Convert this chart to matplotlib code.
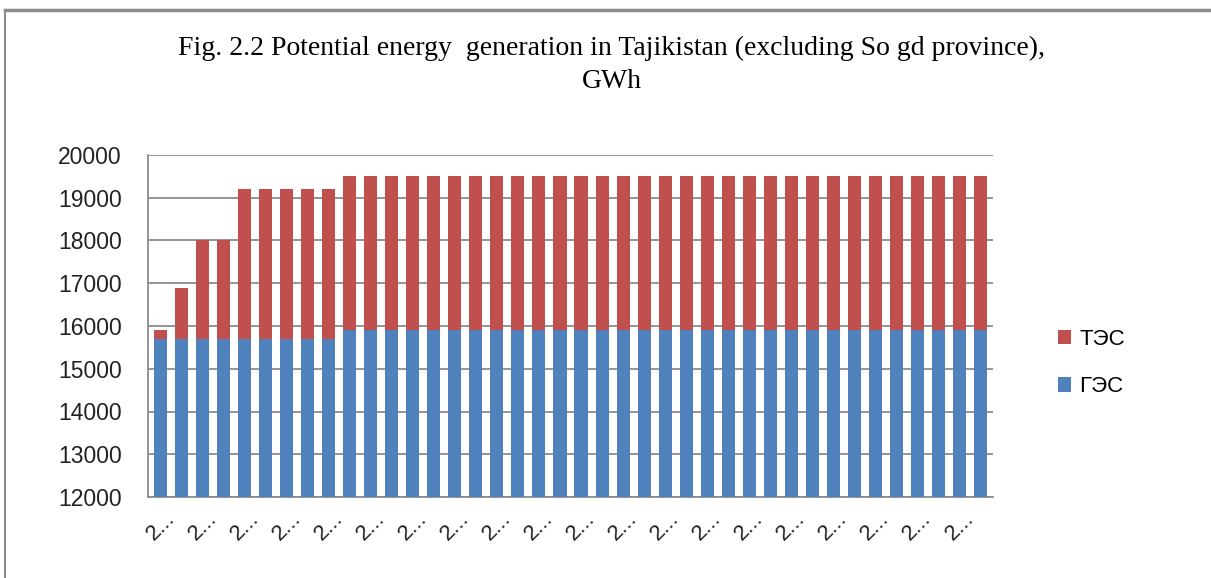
import matplotlib
matplotlib.use("Agg")
import matplotlib.pyplot as plt
from matplotlib.lines import Line2D

# data (40 years, labels truncated to "2..." in the original)
years = list(range(2010, 2050))
ges = [15700] * 9 + [15900] * 31          # ГЭС (hydro)
totals = [15900, 16900, 18000, 18000] + [19200] * 5 + [19500] * 31
tes = [t - g for t, g in zip(totals, ges)]  # ТЭС (thermal)

blue = "#4F81BD"
red = "#C0504D"

fig = plt.figure(figsize=(12.11, 5.78), dpi=100)
ax = fig.add_axes([148 / 1211, 1 - 497 / 578, (993 - 148) / 1211, (497 - 155) / 578])

x = list(range(len(years)))
ax.bar(x, [g - 12000 for g in ges], bottom=12000, width=0.62, color=blue, label="ГЭС", zorder=3)
ax.bar(x, tes, bottom=ges, width=0.62, color=red, label="ТЭС", zorder=3)

ax.set_ylim(12000, 20000)
ax.set_xlim(-0.6, len(years) - 0.4)
ax.set_yticks(range(12000, 20001, 1000))
ax.yaxis.grid(True, color="#8c8c8c", linewidth=1.3, zorder=0)
ax.tick_params(axis="y", length=0, labelsize=16.5, pad=19, colors="#222222")
ax.tick_params(axis="x", length=0, pad=8)
ax.set_xticks(x[::2])
ax.set_xticklabels(["2..." for _ in x[::2]], rotation=45, fontsize=16,
                   ha="center", color="#222222")
for lbl in ax.get_yticklabels() + ax.get_xticklabels():
    lbl.set_family("Liberation Sans")
for s in ["top", "right"]:
    ax.spines[s].set_visible(False)
for s in ["left", "bottom"]:
    ax.spines[s].set_color("#8c8c8c")
    ax.spines[s].set_linewidth(1.3)

handles, labels = ax.get_legend_handles_labels()
leg = fig.legend(handles[::-1], labels[::-1], loc="center left",
                 bbox_to_anchor=(1038 / 1211, 1 - 363 / 578), frameon=False,
                 prop={"family": "Liberation Sans", "size": 16},
                 handlelength=0.6, handleheight=0.6, labelspacing=1.2, handletextpad=0.35)

fig.text(0.5 + 0.005, 1 - 48 / 578, "Fig. 2.2 Potential energy  generation in Tajikistan (excluding So gd province),",
         ha="center", va="center", family="Liberation Serif", size=20)
fig.text(0.5 + 0.005, 1 - 82 / 578, "GWh", ha="center", va="center",
         family="Liberation Serif", size=20)

# outer frame of the original chart box
fig.add_artist(Line2D([5 / 1211, 1], [1 - 10 / 578, 1 - 10 / 578], color="#8c8c8c", linewidth=2.5))
fig.add_artist(Line2D([5 / 1211, 5 / 1211], [0, 1 - 10 / 578], color="#8c8c8c", linewidth=1.5))

fig.savefig("out.png", dpi=100)
